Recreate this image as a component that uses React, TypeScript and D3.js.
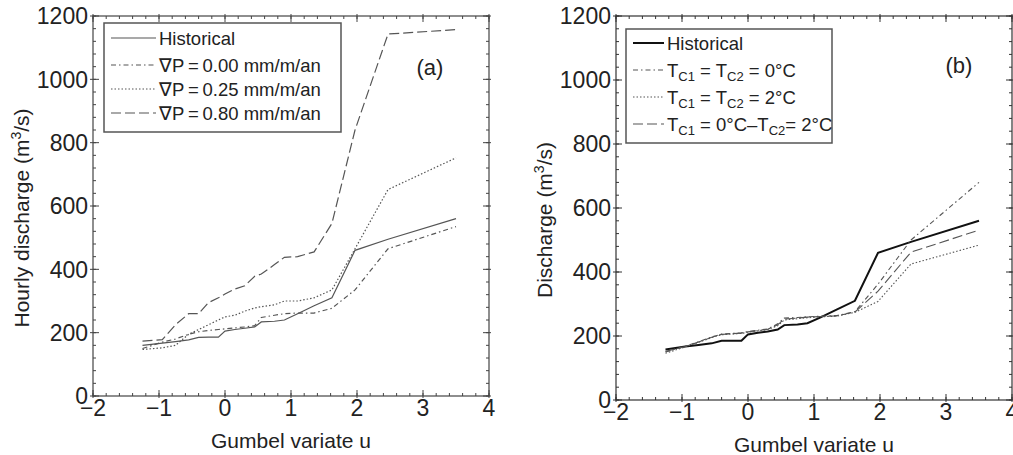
import React from 'react';
import * as d3 from 'd3';

// Gumbel plotting positions shared by every series
const gumbelU = [-1.25, -0.95, -0.75, -0.55, -0.4, -0.25, -0.1, 0.0, 0.15, 0.3, 0.45, 0.55, 0.75, 0.9, 1.1, 1.35, 1.62, 1.97, 2.47, 3.5];

// panel (a)
const historicalA = [160, 167, 172, 177, 185, 186, 186, 205, 210, 214, 218, 234, 236, 240, 260, 285, 310, 460, 495, 560];
const vp000 = [150, 170, 180, 195, 203, 207, 210, 212, 215, 218, 222, 248, 255, 260, 262, 262, 277, 335, 465, 535];
const vp025 = [147, 152, 160, 195, 210, 225, 240, 250, 255, 268, 278, 282, 288, 300, 300, 310, 335, 465, 652, 752];
const vp080 = [173, 178, 225, 260, 260, 295, 310, 322, 338, 348, 378, 385, 415, 438, 440, 455, 545, 840, 1143, 1157];

// panel (b)
const historicalB = [158, 167, 172, 177, 185, 185, 185, 205, 210, 214, 220, 234, 236, 240, 258, 283, 310, 460, 494, 560];
const tc0 = [150, 168, 182, 197, 206, 208, 210, 214, 218, 222, 238, 256, 258, 260, 262, 264, 276, 362, 500, 680];
const tc2 = [146, 166, 180, 195, 204, 206, 208, 212, 216, 220, 232, 250, 254, 257, 260, 262, 274, 308, 425, 484];
const tc02 = [152, 167, 181, 196, 205, 207, 209, 213, 217, 221, 235, 253, 256, 259, 261, 263, 275, 340, 462, 531];

const xMajor = [-2, -1, 0, 1, 2, 3, 4];
const yMajor = [0, 200, 400, 600, 800, 1000, 1200];

const FONT = 'Liberation Sans, Arial, Helvetica, sans-serif';
const DASH_DOT = '5,3,1.5,3';
const DOTTED = '1.5,2';
const LONG_DASH = '10,4';

type Part = { t: string; sub?: boolean };
type Series = { label: Part[]; values: number[]; dash?: string; width: number; color: string };

const fmt = (v: number) => (v < 0 ? '\u2212' + Math.abs(v) : String(v));

function Label({ parts, x, y }: { parts: Part[]; x: number; y: number }) {
  let prevSub = false;
  return (
    <text x={x} y={y} fontSize={18.5} fill="#222" dominantBaseline="central">
      {parts.map((p, i) => {
        const dy = p.sub && !prevSub ? 6 : !p.sub && prevSub ? -6 : 0;
        prevSub = !!p.sub;
        return (
          <tspan key={i} dy={dy} fontSize={p.sub ? 13 : 18.5}>
            {p.t}
          </tspan>
        );
      })}
    </text>
  );
}

function Panel(props: {
  left: number; right: number; top: number; bottom: number;
  series: Series[]; yTitle: string; tag: string; tagX: number; tagY: number;
  legend: { x: number; y: number; w: number; rows: number[]; lineW: number };
  frameColor: string;
}) {
  const { left, right, top, bottom, series, legend } = props;
  const x = d3.scaleLinear().domain([-2, 4]).range([left, right]);
  const y = d3.scaleLinear().domain([0, 1200]).range([bottom, top]);
  const line = d3.line<number>().x((_, i) => x(gumbelU[i])).y((d) => y(d));
  const xMinor = d3.range(-2, 4.001, 0.2);
  const yMinor = d3.range(0, 1200.1, 40);
  const legendH = legend.rows[legend.rows.length - 1] - legend.y + 19;

  return (
    <g fontFamily={FONT}>
      <rect x={left} y={top} width={right - left} height={bottom - top} fill="none" stroke={props.frameColor} strokeWidth={1.2} />
      {xMinor.map((v, i) => (
        <g key={'xm' + i} stroke={props.frameColor} strokeWidth={1}>
          <line x1={x(v)} x2={x(v)} y1={bottom} y2={bottom - 3} />
          <line x1={x(v)} x2={x(v)} y1={top} y2={top + 3} />
        </g>
      ))}
      {yMinor.map((v, i) => (
        <g key={'ym' + i} stroke={props.frameColor} strokeWidth={1}>
          <line x1={left} x2={left + 3} y1={y(v)} y2={y(v)} />
          <line x1={right} x2={right - 3} y1={y(v)} y2={y(v)} />
        </g>
      ))}
      {xMajor.map((v) => (
        <g key={'xM' + v}>
          <line x1={x(v)} x2={x(v)} y1={bottom + 2} y2={bottom - 6} stroke={props.frameColor} />
          <line x1={x(v)} x2={x(v)} y1={top - 2} y2={top + 6} stroke={props.frameColor} />
          <text x={x(v)} y={bottom + 20} textAnchor="middle" fontSize={23} fill="#222">{fmt(v)}</text>
        </g>
      ))}
      {yMajor.map((v) => (
        <g key={'yM' + v}>
          <line x1={left - 3} x2={left + 6} y1={y(v)} y2={y(v)} stroke={props.frameColor} />
          <line x1={right + 2} x2={right - 6} y1={y(v)} y2={y(v)} stroke={props.frameColor} />
          <text x={left - 5} y={y(v)} dy="0.36em" textAnchor="end" fontSize={23} fill="#222">{v}</text>
        </g>
      ))}
      {series.map((s, i) => (
        <path key={'s' + i} d={line(s.values) || ''} fill="none" stroke={s.color} strokeWidth={s.width} strokeDasharray={s.dash} />
      ))}
      <rect x={legend.x} y={legend.y} width={legend.w} height={legendH} fill="#fff" stroke="#555" strokeWidth={1.5} />
      {series.map((s, i) => (
        <g key={'l' + i}>
          <line x1={legend.x + 7} x2={legend.x + 7 + legend.lineW} y1={legend.rows[i]} y2={legend.rows[i]} stroke={s.color} strokeWidth={s.width} strokeDasharray={s.dash} />
          <Label parts={s.label} x={legend.x + 10 + legend.lineW} y={legend.rows[i]} />
        </g>
      ))}
      <text x={props.tagX} y={props.tagY} fontSize={22} fill="#222" textAnchor="middle" dominantBaseline="central">{props.tag}</text>
      <text x={(left + right) / 2} y={bottom + 52} textAnchor="middle" fontSize={21} fill="#222">Gumbel variate u</text>
      <text transform={`translate(${left - 64},${(top + bottom) / 2 + 12}) rotate(-90)`} textAnchor="middle" fontSize={21} fill="#222">
        {props.yTitle}
        <tspan dy={-8} fontSize={14}>3</tspan>
        <tspan dy={8}>/s)</tspan>
      </text>
    </g>
  );
}

const seriesA: Series[] = [
  { label: [{ t: 'Historical' }], values: historicalA, width: 1.2, color: '#555' },
  { label: [{ t: '\u2207P\u2009=\u20090.00 mm/m/an' }], values: vp000, dash: DASH_DOT, width: 1.2, color: '#555' },
  { label: [{ t: '\u2207P\u2009=\u20090.25 mm/m/an' }], values: vp025, dash: DOTTED, width: 1.2, color: '#555' },
  { label: [{ t: '\u2207P\u2009=\u20090.80 mm/m/an' }], values: vp080, dash: LONG_DASH, width: 1.2, color: '#555' },
];

const seriesB: Series[] = [
  { label: [{ t: 'Historical' }], values: historicalB, width: 2, color: '#111' },
  { label: [{ t: 'T' }, { t: 'C1', sub: true }, { t: ' = T' }, { t: 'C2', sub: true }, { t: ' = 0°C' }], values: tc0, dash: DASH_DOT, width: 1.1, color: '#555' },
  { label: [{ t: 'T' }, { t: 'C1', sub: true }, { t: ' = T' }, { t: 'C2', sub: true }, { t: ' = 2°C' }], values: tc2, dash: DOTTED, width: 1.1, color: '#555' },
  { label: [{ t: 'T' }, { t: 'C1', sub: true }, { t: ' = 0°C\u2013T' }, { t: 'C2', sub: true }, { t: '= 2°C' }], values: tc02, dash: LONG_DASH, width: 1.1, color: '#555' },
];

export default function App() {
  return (
    <svg width={1013} height={455} style={{ position: 'absolute', left: 0, top: 0, background: '#fff' }}>
      <Panel
        left={93} right={489} top={16} bottom={396}
        series={seriesA} yTitle="Hourly discharge (m" tag="(a)" tagX={430} tagY={67}
        legend={{ x: 104, y: 23, w: 237, rows: [38, 65, 89, 113], lineW: 45 }}
        frameColor="#444"
      />
      <Panel
        left={616} right={1012} top={16} bottom={400}
        series={seriesB} yTitle="Discharge (m" tag="(b)" tagX={959} tagY={65}
        legend={{ x: 626, y: 29, w: 206, rows: [43, 70, 97, 124], lineW: 31 }}
        frameColor="#333"
      />
    </svg>
  );
}
